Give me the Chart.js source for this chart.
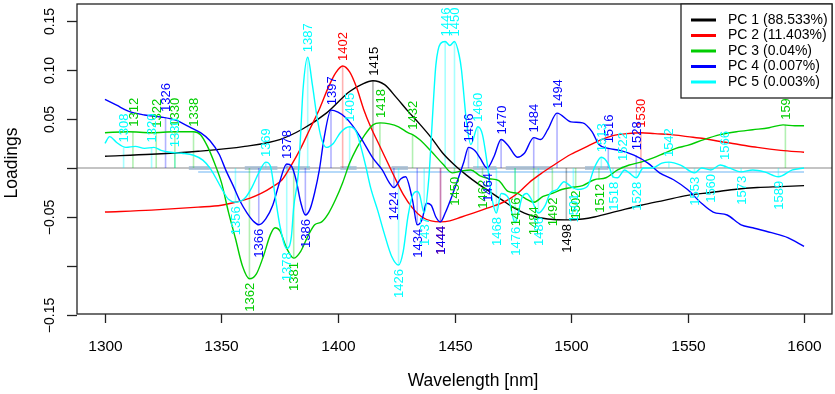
<!DOCTYPE html>
<html>
<head>
<meta charset="utf-8">
<script src="https://cdn.jsdelivr.net/npm/chart.js@4.4.1/dist/chart.umd.min.js"></script>
<style>
html,body{margin:0;padding:0;background:#fff;}
#wrap{width:835px;height:394px;}
</style>
</head>
<body>
<div id="wrap"><canvas id="c" width="835" height="394"></canvas></div>
<script>
// series names / colours
var seriesNames = ['PC 1 (88.533%)', 'PC 2 (11.403%)', 'PC 3 (0.04%)', 'PC 4 (0.007%)', 'PC 5 (0.003%)'];
var seriesColors = ['#000000', '#ff0000', '#00cd00', '#0000ff', '#00ffff'];
var stemColors = ['rgba(0,0,0,0.3)', 'rgba(255,0,0,0.3)', 'rgba(0,205,0,0.3)', 'rgba(0,0,255,0.3)', 'rgba(0,255,255,0.35)'];

var xTicks = [1300, 1350, 1400, 1450, 1500, 1550, 1600];
var yTicks = [0.15, 0.10, 0.05, 0, -0.05, -0.10, -0.15];
var yTickLabels = ['0.15', '0.10', '0.05', '', '\u22120.05', '', '\u22120.15'];

// PC 1 loadings
var pc1Wl = [1300,1320,1340,1360,1375,1385,1395,1405,1410,1415,1420,1425,1430,1435,1440,1445,1450,1455,1460,1465,1470,1475,1480,1485,1490,1498,1505,1510,1520,1530,1540,1550,1560,1570,1580,1590,1600];
var pc1Load = [0.012,0.014,0.017,0.022,0.029,0.040,0.056,0.078,0.085,0.089,0.085,0.072,0.058,0.045,0.031,0.015,0.003,-0.007,-0.016,-0.024,-0.032,-0.040,-0.046,-0.050,-0.052,-0.053,-0.052,-0.050,-0.044,-0.038,-0.033,-0.028,-0.025,-0.022,-0.020,-0.019,-0.018];

// PC 2 loadings
var pc2Wl = [1300,1320,1340,1350,1356,1362,1367,1372,1376,1380,1384,1388,1392,1396,1399,1402,1405,1408,1411,1414,1417,1420,1424,1428,1432,1436,1440,1444,1448,1453,1458,1464,1470,1474,1478,1482,1487,1492,1500,1507,1512,1518,1524,1530,1536,1543,1550,1557,1564,1572,1580,1590,1600];
var pc2Load = [-0.045,-0.043,-0.040,-0.038,-0.035,-0.031,-0.026,-0.019,-0.012,0.003,0.020,0.040,0.060,0.083,0.097,0.104,0.098,0.082,0.060,0.042,0.027,0.012,-0.008,-0.027,-0.041,-0.050,-0.054,-0.055,-0.054,-0.050,-0.046,-0.041,-0.036,-0.031,-0.024,-0.015,-0.006,0.002,0.014,0.022,0.028,0.033,0.035,0.036,0.035,0.034,0.032,0.030,0.027,0.024,0.021,0.018,0.016];

// PC 3 loadings
var pc3Wl = [1300,1310,1320,1330,1338,1341,1344,1347,1350,1353,1356,1359,1362,1365,1368,1371,1373,1375,1378,1381,1384,1387,1390,1393,1396,1399,1402,1405,1408,1411,1415,1418,1422,1426,1430,1432,1435,1440,1445,1449,1453,1457,1461,1465,1469,1473,1477,1481,1484,1488,1492,1496,1500,1505,1510,1515,1520,1525,1530,1535,1540,1545,1550,1557,1564,1571,1578,1585,1591,1596,1600];
var pc3Load = [0.036,0.037,0.036,0.037,0.037,0.034,0.022,0.005,-0.015,-0.045,-0.072,-0.100,-0.113,-0.108,-0.090,-0.068,-0.061,-0.064,-0.082,-0.092,-0.085,-0.070,-0.058,-0.055,-0.046,-0.032,-0.015,0.005,0.020,0.032,0.044,0.046,0.045,0.042,0.036,0.034,0.029,0.017,0.004,-0.005,-0.003,-0.002,-0.008,-0.011,-0.013,-0.024,-0.026,-0.032,-0.035,-0.029,-0.026,-0.022,-0.020,-0.018,-0.012,-0.010,-0.002,0.003,0.006,0.010,0.015,0.020,0.023,0.029,0.034,0.037,0.039,0.041,0.044,0.043,0.043];

// PC 4 loadings
var pc4Wl = [1300,1305,1310,1317,1324,1330,1337,1341,1345,1349,1352,1355,1358,1361,1364,1366,1369,1372,1375,1378,1380,1382,1384,1386,1388,1390,1392,1394,1397,1400,1403,1406,1410,1415,1419,1422,1424,1427,1429,1432,1434,1436,1438,1440,1442,1444,1446,1449,1452,1454,1456,1459,1461,1464,1467,1470,1473,1477,1480,1484,1487,1490,1494,1500,1505,1509,1512,1516,1521,1527,1533,1538,1544,1550,1556,1561,1567,1573,1578,1586,1593,1600];
var pc4Load = [0.070,0.064,0.058,0.054,0.052,0.049,0.041,0.036,0.028,0.014,-0.003,-0.018,-0.034,-0.046,-0.055,-0.058,-0.052,-0.038,-0.014,0.004,0.002,-0.012,-0.035,-0.048,-0.042,-0.025,-0.002,0.030,0.059,0.057,0.052,0.044,0.030,0.010,-0.002,-0.015,-0.020,-0.011,-0.009,-0.033,-0.058,-0.053,-0.036,-0.038,-0.050,-0.055,-0.046,-0.028,-0.008,0.006,0.021,0.017,0.010,0.000,0.012,0.029,0.023,0.011,0.015,0.031,0.029,0.039,0.056,0.047,0.046,0.037,0.024,0.020,0.018,0.013,0.005,-0.005,-0.012,-0.022,-0.036,-0.045,-0.048,-0.058,-0.061,-0.066,-0.071,-0.080];

// PC 5 loadings
var pc5Wl = [1300,1302,1305,1309,1313,1317,1321,1324,1328,1333,1338,1342,1345,1348,1351,1353,1356,1360,1363,1366,1369,1371,1373,1375,1378,1380,1381,1383,1384,1385,1387,1389,1391,1393,1395,1398,1401,1405,1408,1410,1412,1414,1417,1420,1423,1426,1428,1430,1432,1434,1435,1437,1439,1440,1441,1442,1444,1446,1448,1450,1452,1453,1454,1455,1457,1460,1462,1464,1466,1468,1470,1473,1476,1479,1481,1483,1486,1489,1491,1494,1497,1500,1503,1507,1510,1513,1516,1518,1520,1523,1525,1528,1531,1535,1539,1542,1547,1553,1556,1560,1564,1568,1573,1578,1583,1589,1595,1600];
var pc5Load = [0.025,0.032,0.026,0.021,0.022,0.020,0.021,0.018,0.016,0.015,0.013,0.008,0.000,-0.012,-0.025,-0.032,-0.035,-0.031,-0.020,-0.005,0.006,0.002,-0.028,-0.058,-0.082,-0.070,-0.040,-0.005,0.036,0.080,0.113,0.085,0.052,0.029,0.021,0.025,0.036,0.042,0.036,0.020,0.001,-0.020,-0.043,-0.068,-0.090,-0.099,-0.085,-0.050,-0.028,-0.024,-0.027,-0.046,-0.010,0.029,0.070,0.105,0.127,0.129,0.125,0.129,0.115,0.100,0.075,0.050,0.024,0.042,0.034,0.005,-0.030,-0.046,-0.026,-0.030,-0.056,-0.030,-0.026,-0.032,-0.046,-0.038,-0.026,-0.022,-0.014,-0.019,-0.022,-0.019,0.000,0.011,0.004,-0.009,-0.010,-0.002,-0.005,-0.010,0.000,0.000,0.005,0.006,0.003,-0.005,0.000,-0.002,0.003,0.000,-0.004,-0.002,-0.004,-0.009,-0.002,0.000];

// marked peaks per component
var pc1PeakWl = [1415, 1498];
var pc1PeakVal = [0.089, -0.053];
var pc2PeakWl = [1402, 1444, 1530];
var pc2PeakVal = [0.104, -0.055, 0.036];
var pc3PeakWl = [1312,1322,1330,1338,1362,1381,1418,1432,1450,1462,1476,1484,1492,1502,1512,1592];
var pc3PeakVal = [0.037,0.036,0.037,0.037,-0.113,-0.092,0.046,0.034,-0.005,-0.008,-0.026,-0.035,-0.026,-0.019,-0.012,0.044];
var pc4PeakWl = [1326,1366,1378,1386,1397,1424,1434,1444,1456,1464,1470,1484,1494,1516,1528];
var pc4PeakVal = [0.052,-0.058,0.004,-0.048,0.059,-0.020,-0.058,-0.055,0.021,-0.001,0.029,0.031,0.056,0.020,0.013];
var pc5PeakWl = [1308,1320,1330,1356,1369,1378,1387,1405,1426,1437,1446,1450,1460,1468,1476,1486,1501,1513,1518,1522,1528,1542,1553,1560,1566,1573,1589];
var pc5PeakVal = [0.021,0.021,0.016,-0.035,0.006,-0.082,0.113,0.042,-0.099,-0.046,0.129,0.129,0.042,-0.046,-0.056,-0.046,-0.022,0.011,-0.010,0.002,-0.010,0.006,-0.005,-0.002,0.003,-0.004,-0.009];

// shaded bands on the zero line
var bandStart = [1336, 1360, 1378, 1401, 1423, 1458, 1472, 1506];
var bandEnd = [1345, 1374, 1388, 1408, 1430, 1468, 1492, 1516];

var curveWl = [pc1Wl, pc2Wl, pc3Wl, pc4Wl, pc5Wl];
var curveLoad = [pc1Load, pc2Load, pc3Load, pc4Load, pc5Load];
var peakWl = [pc1PeakWl, pc2PeakWl, pc3PeakWl, pc4PeakWl, pc5PeakWl];
var peakVal = [pc1PeakVal, pc2PeakVal, pc3PeakVal, pc4PeakVal, pc5PeakVal];

function toPoints(wl, v) {
    return wl.map(function(w, i) { return {x: w, y: v[i]}; });
}
function stemPoints(wl, v) {
    var out = [];
    wl.forEach(function(w, i) {
        out.push({x: w, y: 0}, {x: w, y: v[i]}, {x: w, y: null});
    });
    return out;
}

var datasets = [];
for (var k = 0; k < 5; k++) {
    datasets.push({
        label: seriesNames[k],
        data: toPoints(curveWl[k], curveLoad[k]),
        borderColor: seriesColors[k],
        borderWidth: 1.4,
        pointRadius: 0,
        cubicInterpolationMode: 'monotone',
        order: 5 - k
    });
}
for (var k = 0; k < 5; k++) {
    datasets.push({
        label: 'stems' + k,
        data: stemPoints(peakWl[k], peakVal[k]),
        borderColor: stemColors[k],
        borderWidth: 1.6,
        pointRadius: 0,
        tension: 0,
        spanGaps: false,
        order: 10
    });
}
var bandPts = [];
bandStart.forEach(function(s, i) {
    bandPts.push({x: s, y: 0}, {x: bandEnd[i], y: 0}, {x: bandEnd[i], y: null});
});
datasets.push({
    label: 'bands', data: bandPts, borderColor: 'rgba(160,185,210,0.75)',
    borderWidth: 4, pointRadius: 0, tension: 0, order: 11
});
datasets.push({
    label: 'offset', data: [{x: 1340, y: -0.004}, {x: 1600, y: -0.004}],
    borderColor: 'rgba(90,170,240,0.6)', borderWidth: 1.5, pointRadius: 0, order: 12
});
datasets.push({
    label: 'zero', data: [{x: 1280, y: 0}, {x: 1620, y: 0}],
    borderColor: '#c4c4c4', borderWidth: 2, pointRadius: 0, order: 13
});

var peakLabels = {
    id: 'peakLabels',
    afterDatasetsDraw: function(chart) {
        var ctx = chart.ctx, xs = chart.scales.x, ys = chart.scales.y;
        ctx.save();
        ctx.font = '13px "Liberation Sans", Arial, sans-serif';
        ctx.textBaseline = 'middle';
        for (var k = 0; k < 5; k++) {
            ctx.fillStyle = seriesColors[k];
            peakWl[k].forEach(function(w, i) {
                var v = peakVal[k][i];
                var px = xs.getPixelForValue(w), py = ys.getPixelForValue(v);
                ctx.save();
                ctx.translate(px + 1, v >= 0 ? py - 5 : py + 4);
                ctx.rotate(-Math.PI / 2);
                ctx.textAlign = v >= 0 ? 'left' : 'right';
                ctx.fillText(String(w), 0, 0);
                ctx.restore();
            });
        }
        ctx.restore();
    }
};

var frame = {
    id: 'frame',
    afterDraw: function(chart) {
        var ctx = chart.ctx, a = chart.chartArea, xs = chart.scales.x, ys = chart.scales.y;
        ctx.save();
        ctx.strokeStyle = '#222';
        ctx.lineWidth = 1.3;
        ctx.strokeRect(a.left, a.top, a.right - a.left, a.bottom - a.top);
        ctx.fillStyle = '#000';
        // x ticks
        ctx.font = '15.5px "Liberation Sans", Arial, sans-serif';
        ctx.textAlign = 'center';
        ctx.textBaseline = 'middle';
        xTicks.forEach(function(t) {
            var px = Math.round(xs.getPixelForValue(t)) + 0.5;
            ctx.beginPath(); ctx.moveTo(px, a.bottom); ctx.lineTo(px, a.bottom + 9); ctx.stroke();
            ctx.fillText(String(t), px, 347);
        });
        // y ticks
        ctx.font = '14px "Liberation Sans", Arial, sans-serif';
        yTicks.forEach(function(t, i) {
            var py = Math.round(ys.getPixelForValue(t)) + 0.5;
            ctx.beginPath(); ctx.moveTo(a.left, py); ctx.lineTo(a.left - 10, py); ctx.stroke();
            if (yTickLabels[i]) {
                ctx.save(); ctx.translate(50, py); ctx.rotate(-Math.PI / 2);
                ctx.fillText(yTickLabels[i], 0, 0); ctx.restore();
            }
        });
        // titles
        ctx.font = '17.5px "Liberation Sans", Arial, sans-serif';
        ctx.fillText('Wavelength [nm]', 473, 381);
        ctx.save(); ctx.translate(12, 163); ctx.rotate(-Math.PI / 2);
        ctx.fillText('Loadings', 0, 0); ctx.restore();
        // legend
        var lx = 681, ly = 4, lw = a.right - 681, lh = 94;
        ctx.fillStyle = '#fff';
        ctx.fillRect(lx, ly, lw, lh);
        ctx.strokeRect(lx, ly, lw, lh);
        ctx.font = '14px "Liberation Sans", Arial, sans-serif';
        ctx.textAlign = 'left';
        seriesNames.forEach(function(n, k) {
            var ry = 20 + k * 15.5;
            ctx.strokeStyle = seriesColors[k];
            ctx.lineWidth = 3;
            ctx.beginPath(); ctx.moveTo(691, ry); ctx.lineTo(716, ry); ctx.stroke();
            ctx.fillStyle = '#000';
            ctx.fillText(n, 728, ry);
        });
        ctx.restore();
    }
};

new Chart(document.getElementById('c'), {
    type: 'line',
    data: {datasets: datasets},
    options: {
        responsive: false,
        animation: false,
        parsing: true,
        layout: {padding: {left: 77, right: 3, top: 4, bottom: 80}},
        plugins: {legend: {display: false}, tooltip: {enabled: false}},
        scales: {
            x: {type: 'linear', min: 1288, max: 1612, display: false},
            y: {type: 'linear', min: -0.149, max: 0.1673, display: false}
        }
    },
    plugins: [peakLabels, frame]
});
</script>
</body>
</html>
